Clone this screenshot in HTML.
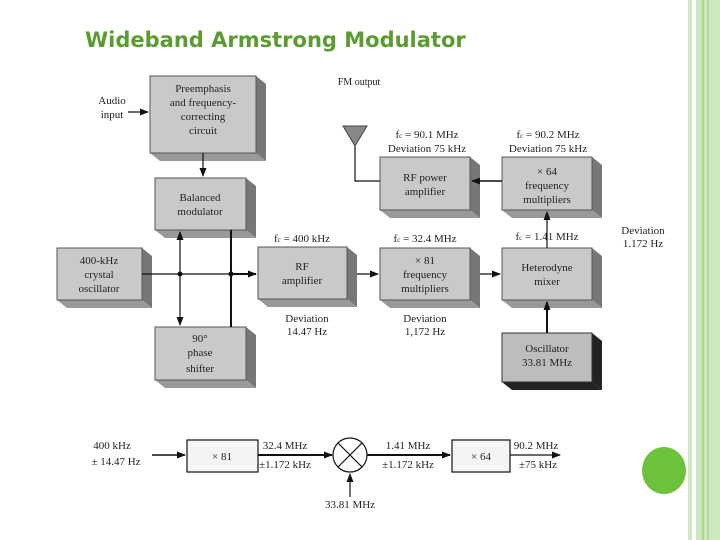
<!DOCTYPE html>
<html><head><meta charset="utf-8"><style>
body{margin:0;width:720px;height:540px;background:#fff;overflow:hidden;position:relative;font-family:"Liberation Serif",serif}
.t{position:absolute;left:85px;top:28px;font:bold 21px "DejaVu Sans",sans-serif;color:#5b9b32;white-space:nowrap}
</style></head><body>
<div class="t">Wideband Armstrong Modulator</div>
<div style="position:absolute;left:688px;top:0;width:4px;height:540px;background:#cfe9c2"></div>
<div style="position:absolute;left:696px;top:0;width:24px;height:540px;background:#cde8c0"></div>
<div style="position:absolute;left:702px;top:0;width:2px;height:540px;background:#a8d890"></div>
<div style="position:absolute;left:707px;top:0;width:2px;height:540px;background:#b5dc9e"></div>
<div style="position:absolute;left:642px;top:447px;width:44px;height:47px;border-radius:50%;background:#6cc23a"></div>
<svg width="720" height="540" style="position:absolute;left:0;top:0" font-family="Liberation Serif,serif" font-size="10" fill="#222">
<defs><marker id="a" markerUnits="userSpaceOnUse" markerWidth="9" markerHeight="7" refX="8" refY="3.5" orient="auto"><path d="M0,0L9,3.5L0,7z" fill="#111"/></marker></defs>
<g>
<g fill="#777"><polygon points="256,76 266,84 266,161 256,153"/><polygon points="150,153 256,153 266,161 160,161" fill="#999"/></g>
<rect x="150" y="76" width="106" height="77" fill="#c9c9c9" stroke="#555"/>
<g fill="#777"><polygon points="246,178 256,186 256,238 246,230"/><polygon points="155,230 246,230 256,238 165,238" fill="#999"/></g>
<rect x="155" y="178" width="91" height="52" fill="#c9c9c9" stroke="#555"/>
<g fill="#777"><polygon points="142,248 152,256 152,308 142,300"/><polygon points="57,300 142,300 152,308 67,308" fill="#999"/></g>
<rect x="57" y="248" width="85" height="52" fill="#c9c9c9" stroke="#555"/>
<g fill="#777"><polygon points="246,327 256,335 256,388 246,380"/><polygon points="155,380 246,380 256,388 165,388" fill="#999"/></g>
<rect x="155" y="327" width="91" height="53" fill="#c9c9c9" stroke="#555"/>
<g fill="#777"><polygon points="347,247 357,255 357,307 347,299"/><polygon points="258,299 347,299 357,307 268,307" fill="#999"/></g>
<rect x="258" y="247" width="89" height="52" fill="#c9c9c9" stroke="#555"/>
<g fill="#777"><polygon points="470,248 480,256 480,308 470,300"/><polygon points="380,300 470,300 480,308 390,308" fill="#999"/></g>
<rect x="380" y="248" width="90" height="52" fill="#c9c9c9" stroke="#555"/>
<g fill="#777"><polygon points="592,248 602,256 602,308 592,300"/><polygon points="502,300 592,300 602,308 512,308" fill="#999"/></g>
<rect x="502" y="248" width="90" height="52" fill="#c9c9c9" stroke="#555"/>
<g fill="#222"><polygon points="592,333 602,341 602,390 592,382"/><polygon points="502,382 592,382 602,390 512,390"/></g>
<rect x="502" y="333" width="90" height="49" fill="#bdbdbd" stroke="#333"/>
<g fill="#777"><polygon points="470,157 480,165 480,218 470,210"/><polygon points="380,210 470,210 480,218 390,218" fill="#999"/></g>
<rect x="380" y="157" width="90" height="53" fill="#c9c9c9" stroke="#555"/>
<g fill="#777"><polygon points="592,157 602,165 602,218 592,210"/><polygon points="502,210 592,210 602,218 512,218" fill="#999"/></g>
<rect x="502" y="157" width="90" height="53" fill="#c9c9c9" stroke="#555"/>
</g>
<g text-anchor="middle" font-size="11">
<text x="203" y="92">Preemphasis</text><text x="203" y="106">and frequency-</text><text x="203" y="120">correcting</text><text x="203" y="134">circuit</text>
<text x="200" y="201">Balanced</text><text x="200" y="215">modulator</text>
<text x="99" y="264">400-kHz</text><text x="99" y="278">crystal</text><text x="99" y="292">oscillator</text>
<text x="200" y="342">90°</text><text x="200" y="356">phase</text><text x="200" y="372">shifter</text>
<text x="302" y="270">RF</text><text x="302" y="284">amplifier</text>
<text x="425" y="264">× 81</text><text x="425" y="278">frequency</text><text x="425" y="292">multipliers</text>
<text x="547" y="271">Heterodyne</text><text x="547" y="285">mixer</text>
<text x="547" y="352">Oscillator</text><text x="547" y="366">33.81 MHz</text>
<text x="425" y="181">RF power</text><text x="425" y="195">amplifier</text>
<text x="547" y="175">× 64</text><text x="547" y="189">frequency</text><text x="547" y="203">multipliers</text>
<text x="112" y="104">Audio</text><text x="112" y="118">input</text>
<text x="359" y="85" font-size="10">FM output</text>
<text x="302" y="242">f<tspan font-size="7">c</tspan> = 400 kHz</text>
<text x="307" y="322">Deviation</text><text x="307" y="335">14.47 Hz</text>
<text x="425" y="242">f<tspan font-size="7">c</tspan> = 32.4 MHz</text>
<text x="425" y="322">Deviation</text><text x="425" y="335">1,172 Hz</text>
<text x="547" y="240">f<tspan font-size="7">c</tspan> = 1.41 MHz</text>
<text x="643" y="234">Deviation</text><text x="643" y="247">1.172 Hz</text>
<text x="427" y="138">f<tspan font-size="7">c</tspan> = 90.1 MHz</text><text x="427" y="152">Deviation 75 kHz</text>
<text x="548" y="138">f<tspan font-size="7">c</tspan> = 90.2 MHz</text><text x="548" y="152">Deviation 75 kHz</text>
</g>
<g stroke="#111" stroke-width="1.2" fill="none">
<line x1="128" y1="112" x2="148" y2="112" marker-end="url(#a)"/>
<line x1="203" y1="153" x2="203" y2="176" marker-end="url(#a)"/>
<line x1="142" y1="274" x2="230" y2="274"/>
<line x1="180" y1="274" x2="180" y2="232" marker-end="url(#a)"/>
<line x1="180" y1="274" x2="180" y2="325" marker-end="url(#a)"/>
<line x1="231" y1="230" x2="231" y2="327" stroke-width="2"/>
<line x1="231" y1="274" x2="256" y2="274" stroke-width="2" marker-end="url(#a)"/>
<line x1="357" y1="274" x2="378" y2="274" marker-end="url(#a)"/>
<line x1="480" y1="274" x2="500" y2="274" marker-end="url(#a)"/>
<line x1="547" y1="333" x2="547" y2="302" stroke-width="2" marker-end="url(#a)"/>
<line x1="547" y1="248" x2="547" y2="212" marker-end="url(#a)"/>
<line x1="502" y1="181" x2="472" y2="181" stroke-width="1.6" marker-end="url(#a)"/>
<polyline points="380,181 355,181 355,140"/>
</g>
<polygon points="343,126 367,126 355,146" fill="#888" stroke="#444"/>
<circle cx="180" cy="274" r="2.5" fill="#111"/><circle cx="231" cy="274" r="2.5" fill="#111"/>
<g stroke="#111" stroke-width="1.2" fill="none">
<rect x="187" y="440" width="71" height="32" fill="#f4f4f4"/>
<rect x="452" y="440" width="58" height="32" fill="#f4f4f4"/>
<circle cx="350" cy="455" r="17"/>
<line x1="338" y1="443" x2="362" y2="467"/><line x1="362" y1="443" x2="338" y2="467"/>
<line x1="152" y1="455" x2="185" y2="455" stroke-width="1.5" marker-end="url(#a)"/>
<line x1="258" y1="455" x2="332" y2="455" stroke-width="2" marker-end="url(#a)"/>
<line x1="367" y1="455" x2="450" y2="455" stroke-width="2" marker-end="url(#a)"/>
<line x1="510" y1="455" x2="560" y2="455" marker-end="url(#a)"/>
<line x1="350" y1="497" x2="350" y2="474" marker-end="url(#a)"/>
</g>
<g font-size="11" text-anchor="middle">
<text x="112" y="449">400 kHz</text><text x="116" y="465">± 14.47 Hz</text>
<text x="222" y="460">× 81</text><text x="481" y="460">× 64</text>
<text x="285" y="449">32.4 MHz</text><text x="285" y="468">±1.172 kHz</text>
<text x="408" y="449">1.41 MHz</text><text x="408" y="468">±1.172 kHz</text>
<text x="536" y="449">90.2 MHz</text><text x="538" y="468">±75 kHz</text>
<text x="350" y="508">33.81 MHz</text>
</g>
</svg>
</body></html>
